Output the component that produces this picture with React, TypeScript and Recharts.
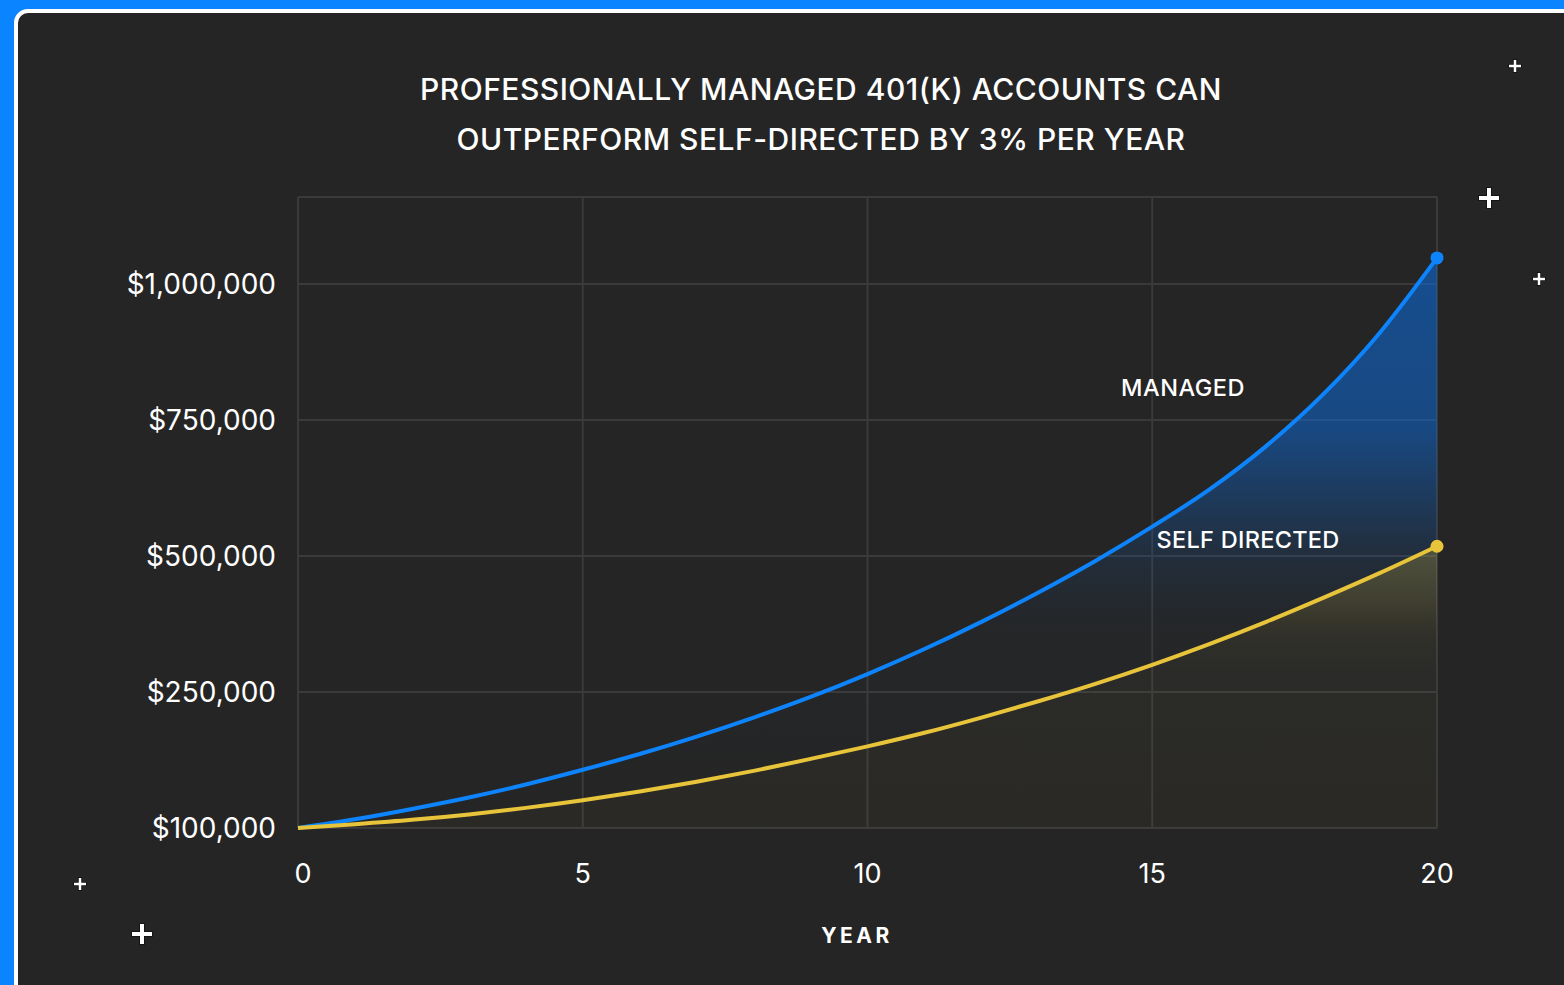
import React from 'react';
import { ComposedChart, Area, XAxis, YAxis, CartesianGrid } from 'recharts';

const years = [0, 1, 2, 3, 4, 5, 6, 7, 8, 9, 10, 11, 12, 13, 14, 15, 16, 17, 18, 19, 20];
const managed = [
  100000, 109600, 121000, 133600, 148000, 164200, 181600, 200800, 221800, 244600, 283000,
  329000, 379000, 433000, 491000, 554000, 622000, 702000, 797000, 911000, 1048000,
];
const selfDirected = [
  100000, 104200, 109000, 115000, 122200, 130600, 140200, 151000, 163000, 176200, 190000,
  205000, 221800, 239800, 265000, 300000, 338000, 379000, 423000, 469000, 518000,
];
const yTicks = [100000, 250000, 500000, 750000, 1000000];
const xTicks = [0, 5, 10, 15, 20];
const titleLines = ['PROFESSIONALLY MANAGED 401(K) ACCOUNTS CAN', 'OUTPERFORM SELF-DIRECTED BY 3% PER YEAR'];

const BLUE = '#0d84fb';
const YELLOW = '#e8c43a';
const BG = '#252525';
const FONT = 'Inter, "Open Sans", sans-serif';

// the y axis is drawn with even steps, but its first step only covers 100k -> 250k
const FLOOR = 100000;
const BREAK = 250000;
const toAxis = (v: number) => (v < BREAK ? ((v - FLOOR) * BREAK) / (BREAK - FLOOR) : v);
const fromAxis = (a: number) => (a < BREAK ? FLOOR + (a * (BREAK - FLOOR)) / BREAK : a);

const data = years.map((year, i) => ({
  year,
  managed: toAxis(managed[i]),
  selfDirected: toAxis(selfDirected[i]),
}));

const formatMoney = (a: number) => '$' + Math.round(fromAxis(a)).toLocaleString('en-US');

const endDot = (color: string) => (props: any) => {
  const { cx, cy, index } = props;
  if (index !== years.length - 1) return <g key={`dot-${index}`} />;
  return <circle key={`dot-${index}`} cx={cx} cy={cy} r={6.5} fill={color} />;
};

const XTick = (props: any) => {
  const { x, y, payload, index } = props;
  return (
    <text
      x={x + (index === 0 ? 5 : 0)}
      y={y}
      dy="0.71em"
      textAnchor="middle"
      fill="#ffffff"
      fontSize={27}
      fontFamily={FONT}
    >
      {payload.value}
    </text>
  );
};

function Plus({ x, y, size, thick }: { x: number; y: number; size: number; thick: number }) {
  const h = size / 2;
  const t = thick / 2;
  const d = `M${-t},${-h}H${t}V${-t}H${h}V${t}H${t}V${h}H${-t}V${t}H${-h}V${-t}H${-t}Z`;
  return (
    <svg
      width={size + 6}
      height={size + 6}
      viewBox={`${-h - 3} ${-h - 3} ${size + 6} ${size + 6}`}
      style={{ position: 'absolute', left: x - h - 3, top: y - h - 3 }}
    >
      <path d={d} fill="#ffffff" stroke="#111111" strokeWidth={1.6} paintOrder="stroke" />
    </svg>
  );
}

const labelStyle: React.CSSProperties = {
  position: 'absolute',
  transform: 'translate(-50%, -50%)',
  color: '#ffffff',
  fontFamily: FONT,
  whiteSpace: 'nowrap',
  lineHeight: 1,
};

export default function App() {
  return (
    <div
      style={{
        position: 'fixed',
        left: 0,
        top: 0,
        width: 1564,
        height: 985,
        background: '#0a84ff',
        overflow: 'hidden',
      }}
    >
      {/* card */}
      <div
        style={{
          position: 'absolute',
          left: 14,
          top: 9,
          width: 1600,
          height: 1020,
          border: '4px solid #ffffff',
          borderRadius: 14,
          background: BG,
        }}
      />

      <div style={{ position: 'absolute', left: 0, top: 0 }}>
        <ComposedChart
          width={1564}
          height={985}
          data={data}
          margin={{ top: 197, right: 127, bottom: 0, left: 0 }}
          style={{ fontFamily: FONT }}
        >
          <defs>
            <linearGradient id="managedFill" x1="0" y1="0" x2="0" y2="1">
              <stop offset="0" stopColor="#0a6fe6" stopOpacity={0.55} />
              <stop offset="0.3" stopColor="#0a6fe6" stopOpacity={0.48} />
              <stop offset="0.41" stopColor="#0a6fe6" stopOpacity={0.3} />
              <stop offset="0.52" stopColor="#0a6fe6" stopOpacity={0.12} />
              <stop offset="0.64" stopColor="#0a6fe6" stopOpacity={0.02} />
              <stop offset="1" stopColor="#0a6fe6" stopOpacity={0} />
            </linearGradient>
            <linearGradient id="selfFill" x1="0" y1="0" x2="0" y2="1">
              <stop offset="0" stopColor={YELLOW} stopOpacity={0.24} />
              <stop offset="0.2" stopColor={YELLOW} stopOpacity={0.14} />
              <stop offset="0.32" stopColor={YELLOW} stopOpacity={0.06} />
              <stop offset="0.45" stopColor={YELLOW} stopOpacity={0.03} />
              <stop offset="1" stopColor={YELLOW} stopOpacity={0.025} />
            </linearGradient>
          </defs>

          <CartesianGrid stroke="#3a3a3a" strokeWidth={2} />

          <XAxis
            dataKey="year"
            type="number"
            domain={[0, 20]}
            ticks={xTicks}
            height={157}
            axisLine={false}
            tickLine={false}
            tickSize={0}
            tickMargin={36}
            tick={<XTick />}
            interval={0}
          />
          <YAxis
            type="number"
            domain={[0, 1160000]}
            ticks={yTicks.map(toAxis)}
            width={298}
            axisLine={false}
            tickLine={false}
            tickSize={0}
            tickMargin={22}
            tickFormatter={formatMoney}
            tick={{ fill: '#ffffff', fontSize: 28, fontFamily: FONT }}
            interval={0}
          />

          <Area
            type="monotone"
            dataKey="managed"
            stroke={BLUE}
            strokeWidth={4}
            fill="url(#managedFill)"
            fillOpacity={1}
            dot={endDot(BLUE)}
            activeDot={false}
            isAnimationActive={false}
          />
          <Area
            type="monotone"
            dataKey="selfDirected"
            stroke={YELLOW}
            strokeWidth={4}
            fill="url(#selfFill)"
            fillOpacity={1}
            dot={endDot(YELLOW)}
            activeDot={false}
            isAnimationActive={false}
          />
        </ComposedChart>
      </div>

      {/* title */}
      {titleLines.map((line, i) => (
        <div
          key={line}
          style={{ ...labelStyle, left: 821, top: 89 + i * 50, fontSize: 30, fontWeight: 500, letterSpacing: 0.5 }}
        >
          {line}
        </div>
      ))}

      {/* series labels */}
      <div style={{ ...labelStyle, left: 1183, top: 388, fontSize: 23.5, fontWeight: 500, letterSpacing: 0.5 }}>
        MANAGED
      </div>
      <div style={{ ...labelStyle, left: 1248, top: 540, fontSize: 23.5, fontWeight: 500, letterSpacing: 0.3 }}>
        SELF DIRECTED
      </div>

      {/* axis title */}
      <div style={{ ...labelStyle, left: 857, top: 935, fontSize: 21, fontWeight: 700, letterSpacing: 3.5 }}>YEAR</div>

      {/* decorative sparkles */}
      <Plus x={1515} y={66} size={12} thick={2.5} />
      <Plus x={1489} y={198} size={20} thick={4} />
      <Plus x={1539} y={279} size={12} thick={2.5} />
      <Plus x={80} y={884} size={12} thick={2.5} />
      <Plus x={142} y={934} size={20} thick={4} />
    </div>
  );
}
